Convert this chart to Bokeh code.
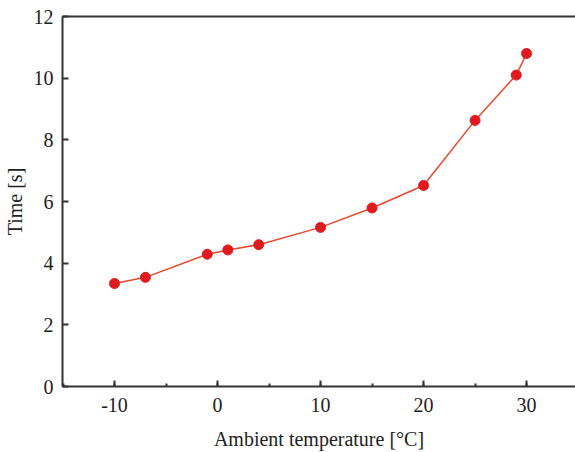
from bokeh.plotting import figure
from bokeh.models import Range1d, SingleIntervalTicker, LinearAxis, FixedTicker
from bokeh.embed import file_html
from bokeh.resources import INLINE

temperature = [-10, -7, -1, 1, 4, 10, 15, 20, 25, 29, 30]
time_s = [3.34, 3.54, 4.29, 4.43, 4.60, 5.16, 5.79, 6.52, 8.63, 10.10, 10.80]
x_tick_labels = {-10: "-10", 0: "0", 10: "10", 20: "20", 30: "30"}

FONT = "Liberation Serif"
AX = "#333333"
TXT = "#222222"

p = figure(width=575, height=452, output_backend="svg", toolbar_location=None,
           x_range=Range1d(-15.05, 34.75), y_range=Range1d(0, 12),
           min_border_left=62, min_border_right=0, min_border_top=16, min_border_bottom=63)
p.outline_line_color = None
p.xgrid.visible = False
p.ygrid.visible = False

p.line(temperature, time_s, line_color="#e8482e", line_width=1.5)
p.scatter(temperature, time_s, size=10, fill_color="#e01b1f", line_color="#e01b1f")

p.xaxis.ticker = SingleIntervalTicker(interval=10, num_minor_ticks=2)
p.yaxis.ticker = SingleIntervalTicker(interval=2, num_minor_ticks=0)
for ax in (p.xaxis[0], p.yaxis[0]):
    ax.axis_line_color = AX
    ax.axis_line_width = 2
    ax.major_tick_line_color = AX
    ax.major_tick_line_width = 2
    ax.major_tick_in = 6
    ax.major_tick_out = 0
    ax.minor_tick_line_color = AX
    ax.minor_tick_line_width = 2
    ax.minor_tick_in = 3
    ax.minor_tick_out = 0
    ax.major_label_text_font = FONT
    ax.major_label_text_font_size = "20px"
    ax.major_label_text_color = TXT
    ax.axis_label_text_font = FONT
    ax.axis_label_text_font_size = "20px"
    ax.axis_label_text_font_style = "normal"
    ax.axis_label_text_color = TXT
p.yaxis.minor_tick_line_color = None
p.xaxis.major_label_overrides = x_tick_labels
p.xaxis.axis_label = "Ambient temperature [°C]"
p.yaxis.axis_label = "Time [s]"
p.xaxis.major_label_standoff = 11
p.yaxis.major_label_standoff = 9
p.xaxis.axis_label_standoff = 13
p.yaxis.axis_label_standoff = 5

top = LinearAxis(ticker=FixedTicker(ticks=[]), axis_line_color=AX, axis_line_width=2,
                 major_tick_line_color=None, minor_tick_line_color=None)
p.add_layout(top, "above")

open("out.html", "w").write(file_html(p, INLINE))
